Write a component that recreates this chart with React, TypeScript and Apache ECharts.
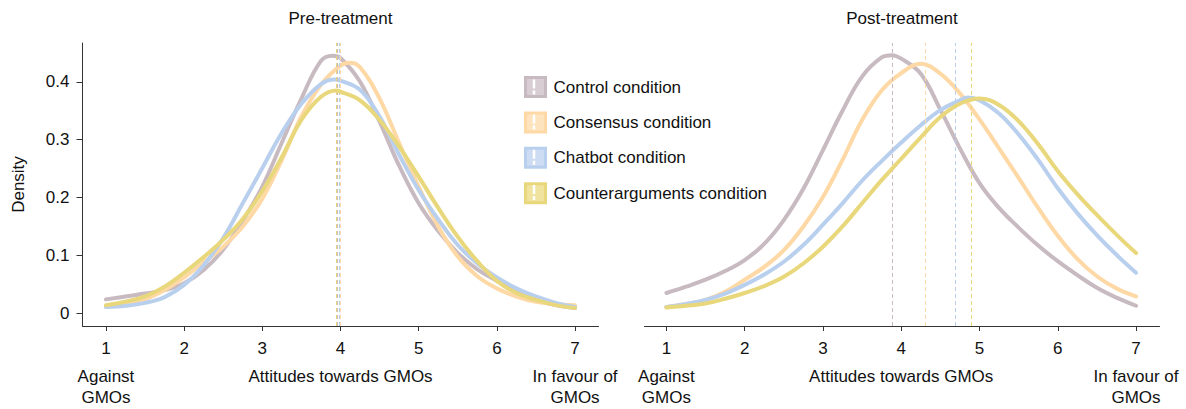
import React, { useEffect, useRef } from "react";
import * as echarts from "echarts";

const SERIES_NAMES = [
  "Control condition",
  "Consensus condition",
  "Chatbot condition",
  "Counterarguments condition",
];
const COLORS = ["#c8bac1", "#fed8a5", "#b9cfee", "#e8d77b"];
const TINTS = ["#d8cdd2", "#fee3bf", "#cddcf2", "#efe39f"];

const PANEL_TITLES = ["Pre-treatment", "Post-treatment"];
const X_VALUES = [
  1, 1.25, 1.5, 1.75, 2, 2.25, 2.5, 2.75, 3, 3.25, 3.5, 3.75, 4,
  4.25, 4.5, 4.75, 5, 5.25, 5.5, 5.75, 6, 6.25, 6.5, 6.75, 7,
];
const X_TICKS = [1, 2, 3, 4, 5, 6, 7];
const Y_TICKS = [0, 0.1, 0.2, 0.3, 0.4];

// Pre-treatment densities
const PRE_CONTROL = [0.024, 0.029, 0.034, 0.04, 0.052, 0.075, 0.11, 0.16, 0.219, 0.295, 0.371, 0.436, 0.441, 0.4, 0.331, 0.255, 0.19, 0.142, 0.104, 0.076, 0.056, 0.038, 0.023, 0.014, 0.009];
const PRE_CONSENSUS = [0.011, 0.016, 0.024, 0.04, 0.062, 0.088, 0.115, 0.15, 0.198, 0.265, 0.34, 0.395, 0.428, 0.425, 0.371, 0.294, 0.219, 0.15, 0.098, 0.064, 0.043, 0.029, 0.02, 0.016, 0.014];
const PRE_CHATBOT = [0.011, 0.013, 0.018, 0.028, 0.049, 0.083, 0.13, 0.19, 0.251, 0.312, 0.362, 0.396, 0.402, 0.386, 0.34, 0.274, 0.213, 0.162, 0.118, 0.086, 0.062, 0.043, 0.029, 0.018, 0.011];
const PRE_COUNTER = [0.014, 0.02, 0.029, 0.046, 0.07, 0.097, 0.127, 0.163, 0.211, 0.27, 0.334, 0.374, 0.383, 0.368, 0.334, 0.288, 0.236, 0.182, 0.132, 0.09, 0.056, 0.035, 0.023, 0.014, 0.009];
// density peaks [x, y] (null when the peak already falls on X_VALUES)
const PRE_PEAKS: ([number, number] | null)[] = [[3.9, 0.445], [4.12, 0.433], [3.92, 0.404], [3.95, 0.385]];
const PRE_MEANS = [3.96, 4.0, 3.98, 3.94];

// Post-treatment densities
const POST_CONTROL = [0.035, 0.046, 0.058, 0.073, 0.092, 0.12, 0.161, 0.215, 0.282, 0.35, 0.409, 0.442, 0.44, 0.414, 0.352, 0.285, 0.225, 0.182, 0.148, 0.117, 0.09, 0.066, 0.044, 0.027, 0.013];
const POST_CONSENSUS = [0.011, 0.016, 0.023, 0.037, 0.058, 0.08, 0.109, 0.15, 0.201, 0.265, 0.334, 0.385, 0.415, 0.431, 0.414, 0.38, 0.335, 0.285, 0.234, 0.182, 0.134, 0.094, 0.064, 0.043, 0.029];
const POST_CHATBOT = [0.011, 0.016, 0.023, 0.034, 0.049, 0.067, 0.089, 0.118, 0.153, 0.19, 0.229, 0.263, 0.295, 0.325, 0.351, 0.368, 0.368, 0.345, 0.309, 0.265, 0.216, 0.173, 0.135, 0.101, 0.07];
const POST_COUNTER = [0.01, 0.013, 0.017, 0.025, 0.035, 0.047, 0.063, 0.086, 0.115, 0.15, 0.19, 0.23, 0.267, 0.304, 0.339, 0.362, 0.371, 0.36, 0.332, 0.292, 0.246, 0.206, 0.17, 0.136, 0.104];
const POST_PEAKS: ([number, number] | null)[] = [[3.88, 0.446], null, [4.85, 0.373], null];
const POST_MEANS = [3.88, 4.31, 4.69, 4.9];

const X_LEFT_LABEL = "Against\nGMOs";
const X_MID_LABEL = "Attitudes towards GMOs";
const X_RIGHT_LABEL = "In favour of\nGMOs";
const Y_NAME = "Density";

const FONT = "'Liberation Sans', Arial, Helvetica, sans-serif";
const TEXT_COLOR = "#111";
const AXIS_COLOR = "#333";

const GRIDS = [
  { left: 82.5, top: 43, width: 516, height: 283, xMin: 0.7, xMax: 7.3 },
  { left: 644.5, top: 43, width: 515, height: 283, xMin: 0.72, xMax: 7.3 },
];
const Y_MIN = -0.022;
const Y_MAX = 0.467;

const LEGEND = { left: 524, top: 76, w: 20, h: 19, gap: 13.4 };

function xPx(g: (typeof GRIDS)[number], v: number) {
  return g.left + ((v - g.xMin) / (g.xMax - g.xMin)) * g.width;
}

export default function App() {
  const ref = useRef<HTMLDivElement>(null);

  useEffect(() => {
    if (!ref.current) return;
    const chart = echarts.init(ref.current, undefined, { renderer: "svg" });

    const panels = [
      { values: [PRE_CONTROL, PRE_CONSENSUS, PRE_CHATBOT, PRE_COUNTER], peaks: PRE_PEAKS, means: PRE_MEANS },
      { values: [POST_CONTROL, POST_CONSENSUS, POST_CHATBOT, POST_COUNTER], peaks: POST_PEAKS, means: POST_MEANS },
    ];

    const series: any[] = [];
    panels.forEach((p, gi) => {
      p.values.forEach((vals, si) => {
        const pts: [number, number][] = X_VALUES.map((x, j) => [x, vals[j]] as [number, number]);
        const pk = p.peaks[si];
        if (pk) pts.push(pk);
        pts.sort((a, b) => a[0] - b[0]);
        series.push({
          type: "line",
          name: SERIES_NAMES[si],
          xAxisIndex: gi,
          yAxisIndex: gi,
          data: pts,
          smooth: 0.4,
          symbol: "none",
          showSymbol: false,
          lineStyle: { color: COLORS[si], width: 4, cap: "round" },
          itemStyle: { color: COLORS[si] },
          emphasis: { disabled: true },
          z: 2 + si,
          markLine: {
            silent: true,
            symbol: ["none", "none"],
            label: { show: false },
            emphasis: { disabled: true },
            lineStyle: { color: COLORS[si], type: [4, 3], width: 1 },
            data: [{ xAxis: p.means[si] }],
          },
        });
      });
    });

    const graphic: any[] = [];
    GRIDS.forEach((g, gi) => {
      graphic.push({
        type: "text",
        x: g.left + g.width / 2,
        y: 18,
        style: {
          text: PANEL_TITLES[gi],
          fontSize: 17,
          fontFamily: FONT,
          fill: TEXT_COLOR,
          align: "center",
          verticalAlign: "middle",
        },
      });
      const labels = [
        { t: X_LEFT_LABEL, v: 1 },
        { t: X_MID_LABEL, v: 4 },
        { t: X_RIGHT_LABEL, v: 7 },
      ];
      labels.forEach((l) => {
        graphic.push({
          type: "text",
          x: xPx(g, l.v),
          y: 366,
          style: {
            text: l.t,
            fontSize: 17,
            lineHeight: 21,
            fontFamily: FONT,
            fill: TEXT_COLOR,
            align: "center",
            verticalAlign: "top",
          },
        });
      });
    });
    SERIES_NAMES.forEach((_, i) => {
      const top = LEGEND.top + i * 35.2 + 1.4;
      const cx = LEGEND.left + LEGEND.w / 2;
      graphic.push({
        type: "line",
        z: 100,
        shape: { x1: cx, y1: top + 2, x2: cx, y2: top + LEGEND.h - 2 },
        style: { stroke: "#ffffff", lineWidth: 2.5, lineDash: [9, 2] },
      });
    });

    const option: any = {
      animation: false,
      backgroundColor: "#ffffff",
      textStyle: { fontFamily: FONT },
      grid: GRIDS.map((g) => ({ left: g.left, top: g.top, width: g.width, height: g.height })),
      xAxis: GRIDS.map((g, gi) => ({
        type: "value",
        gridIndex: gi,
        min: g.xMin,
        max: g.xMax,
        axisLine: { show: true, onZero: false, lineStyle: { color: AXIS_COLOR, width: 1 } },
        axisTick: { show: true, length: 5, customValues: X_TICKS, lineStyle: { color: AXIS_COLOR } },
        axisLabel: {
          customValues: X_TICKS,
          fontSize: 17,
          color: TEXT_COLOR,
          fontFamily: FONT,
          margin: 14,
        },
        splitLine: { show: false },
      })),
      yAxis: GRIDS.map((g, gi) => ({
        type: "value",
        gridIndex: gi,
        min: Y_MIN,
        max: Y_MAX,
        show: gi === 0,
        name: gi === 0 ? Y_NAME : "",
        nameLocation: "middle",
        nameGap: 56,
        nameTextStyle: { fontSize: 17, color: TEXT_COLOR, fontFamily: FONT },
        axisLine: { show: true, onZero: false, lineStyle: { color: AXIS_COLOR, width: 1 } },
        axisTick: { show: true, length: 6, customValues: Y_TICKS, lineStyle: { color: AXIS_COLOR } },
        axisLabel: {
          customValues: Y_TICKS,
          fontSize: 17,
          color: TEXT_COLOR,
          fontFamily: FONT,
          margin: 13,
          formatter: (v: number) => (v === 0 ? "0" : v.toFixed(1)),
        },
        splitLine: { show: false },
      })),
      legend: {
        orient: "vertical",
        left: LEGEND.left,
        top: LEGEND.top,
        padding: 0,
        itemWidth: LEGEND.w,
        itemHeight: LEGEND.h,
        itemGap: LEGEND.gap,
        icon: "rect",
        selectedMode: false,
        textStyle: { fontSize: 17, color: TEXT_COLOR, fontFamily: FONT, padding: [0, 0, 0, 3] },
        data: SERIES_NAMES.map((n, i) => ({
          name: n,
          itemStyle: { color: TINTS[i], borderColor: COLORS[i], borderWidth: 3 },
        })),
      },
      graphic,
      series,
    };

    chart.setOption(option);
    return () => chart.dispose();
  }, []);

  return (
    <div
      ref={ref}
      style={{ position: "fixed", left: 0, top: 0, width: 1186, height: 409, background: "#fff" }}
    />
  );
}
